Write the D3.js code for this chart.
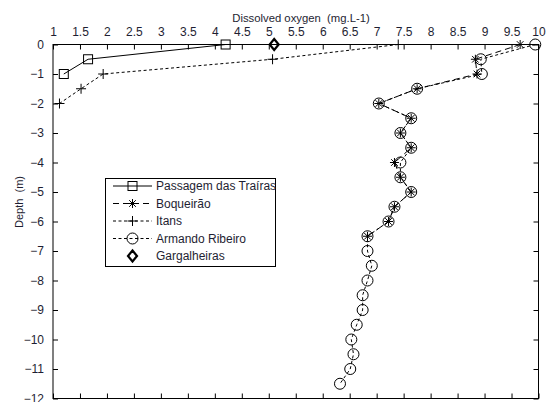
<!DOCTYPE html>
<html>
<head>
<meta charset="utf-8">
<script src="https://cdn.jsdelivr.net/npm/d3@7"></script>
<style>
  body { margin: 0; background: #fff; }
  text { font-family: "Liberation Sans", Arial, sans-serif; }
</style>
</head>
<body>
<svg id="chart" width="547" height="402"></svg>
<script>
// data: depth (m) vs dissolved oxygen (mg/L)
var passagemDepth = [0, -0.5, -1];
var passagemDO = [4.2, 1.65, 1.2];

var boqueiraoDepth = [0, -0.5, -1, -1.5, -2, -2.5, -3, -3.5, -4, -4.5, -5, -5.5, -6, -6.5];
var boqueiraoDO = [9.66, 8.83, 8.86, 7.75, 7.04, 7.64, 7.44, 7.64, 7.33, 7.44, 7.64, 7.33, 7.22, 6.83];

var itansDepth = [0, -0.5, -1, -1.5, -2];
var itansDO = [7.4, 5.07, 1.93, 1.52, 1.12];

var armandoDepth = [0, -0.5, -1, -1.5, -2, -2.5, -3, -3.5, -4, -4.5, -5, -5.5, -6, -6.5,
  -7, -7.5, -8, -8.5, -9, -9.5, -10, -10.5, -11, -11.5];
var armandoDO = [9.94, 8.93, 8.95, 7.75, 7.04, 7.64, 7.44, 7.64, 7.44, 7.44, 7.64, 7.33, 7.22, 6.83,
  6.83, 6.91, 6.83, 6.74, 6.74, 6.63, 6.53, 6.57, 6.51, 6.32];

var gargalheirasDepth = [0];
var gargalheirasDO = [5.1];

var xTicks = [1, 1.5, 2, 2.5, 3, 3.5, 4, 4.5, 5, 5.5, 6, 6.5, 7, 7.5, 8, 8.5, 9, 9.5, 10];
var yTicks = [0, -1, -2, -3, -4, -5, -6, -7, -8, -9, -10, -11, -12];

var series = [
  {name: "Passagem das Traíras", x: passagemDO, y: passagemDepth, dash: null, marker: "square"},
  {name: "Boqueirão", x: boqueiraoDO, y: boqueiraoDepth, dash: "6,4", marker: "asterisk"},
  {name: "Itans", x: itansDO, y: itansDepth, dash: "3,2.5", marker: "plus"},
  {name: "Armando Ribeiro", x: armandoDO, y: armandoDepth, dash: "3,2.5", marker: "circle"},
  {name: "Gargalheiras", x: gargalheirasDO, y: gargalheirasDepth, dash: "none", marker: "diamond"}
];

var svg = d3.select("#chart");
var pLeft = 53, pRight = 538.5, pTop = 44.5, pBottom = 398.5;
var textColor = "#1e1e32";

var x = d3.scaleLinear().domain([1, 10]).range([pLeft, pRight]);
var y = d3.scaleLinear().domain([0, -12]).range([pTop, pBottom]);

// box
svg.append("rect")
  .attr("x", pLeft).attr("y", pTop)
  .attr("width", pRight - pLeft).attr("height", pBottom - pTop)
  .attr("fill", "none").attr("stroke", "#000").attr("stroke-width", 1);

// top axis with labels
var xTop = svg.append("g").attr("transform", "translate(0," + pTop + ")")
  .call(d3.axisTop(x).tickValues(xTicks).tickSize(-5).tickPadding(9)
    .tickFormat(function(d){ return d3.format("")(d); }));
// bottom axis, ticks only
var xBot = svg.append("g").attr("transform", "translate(0," + pBottom + ")")
  .call(d3.axisBottom(x).tickValues(xTicks).tickSize(-5).tickFormat(""));
var yLeft = svg.append("g").attr("transform", "translate(" + pLeft + ",0)")
  .call(d3.axisLeft(y).tickValues(yTicks).tickSize(-5).tickPadding(9));
var yRight = svg.append("g").attr("transform", "translate(" + pRight + ",0)")
  .call(d3.axisRight(y).tickValues(yTicks).tickSize(-5).tickFormat(""));

[xTop, xBot, yLeft, yRight].forEach(function(g){
  g.select(".domain").remove();
  g.selectAll("line").attr("stroke", "#000");
  g.selectAll("text").attr("fill", textColor).style("font-size", "12px")
    .style("font-family", "Liberation Sans, Arial, sans-serif");
});

// titles
svg.append("text")
  .attr("x", 301).attr("y", 22)
  .attr("text-anchor", "middle").attr("fill", textColor)
  .style("font-size", "11.3px").attr("xml:space", "preserve")
  .text("Dissolved oxygen  (mg.L-1)");
svg.append("text")
  .attr("transform", "translate(23,202) rotate(-90)")
  .attr("text-anchor", "middle").attr("fill", textColor)
  .style("font-size", "11px").attr("xml:space", "preserve")
  .text("Depth  (m)");

function drawMarker(g, type, cx, cy){
  var p;
  if (type == "square") {
    g.append("rect").attr("x", cx - 4.5).attr("y", cy - 4.5).attr("width", 9).attr("height", 9)
      .attr("fill", "none").attr("stroke", "#000").attr("stroke-width", 1);
  } else if (type == "circle") {
    g.append("circle").attr("cx", cx).attr("cy", cy).attr("r", 5.5)
      .attr("fill", "none").attr("stroke", "#000").attr("stroke-width", 1);
  } else if (type == "plus") {
    p = "M" + (cx - 5) + "," + cy + "H" + (cx + 5) + "M" + cx + "," + (cy - 5) + "V" + (cy + 5);
    g.append("path").attr("d", p).attr("stroke", "#000").attr("stroke-width", 1);
  } else if (type == "asterisk") {
    var r = 4.5, s = 3.3;
    p = "M" + (cx - r) + "," + cy + "H" + (cx + r) + "M" + cx + "," + (cy - r) + "V" + (cy + r) +
      "M" + (cx - s) + "," + (cy - s) + "L" + (cx + s) + "," + (cy + s) +
      "M" + (cx - s) + "," + (cy + s) + "L" + (cx + s) + "," + (cy - s);
    g.append("path").attr("d", p).attr("stroke", "#000").attr("stroke-width", 1);
  } else if (type == "diamond") {
    p = "M" + cx + "," + (cy - 5.5) + "L" + (cx + 4.5) + "," + cy + "L" + cx + "," + (cy + 5.5) +
      "L" + (cx - 4.5) + "," + cy + "Z";
    g.append("path").attr("d", p).attr("fill", "none").attr("stroke", "#000").attr("stroke-width", 2.2);
  }
}

var line = d3.line().x(function(d){ return x(d[0]); }).y(function(d){ return y(d[1]); });

series.forEach(function(s){
  var g = svg.append("g");
  var pts = d3.zip(s.x, s.y);
  if (s.dash !== "none" && pts.length > 1) {
    g.append("path").datum(pts).attr("d", line)
      .attr("fill", "none").attr("stroke", "#000").attr("stroke-width", 1)
      .attr("stroke-dasharray", s.dash);
  }
  pts.forEach(function(d){ drawMarker(g, s.marker, x(d[0]), y(d[1])); });
});

// legend
var lg = svg.append("g");
lg.append("rect").attr("x", 105.5).attr("y", 178.5).attr("width", 170).attr("height", 88)
  .attr("fill", "#fff").attr("stroke", "#000").attr("stroke-width", 1);
series.forEach(function(s, i){
  var ly = 186 + i * 17.5;
  if (s.dash !== "none") {
    lg.append("line").attr("x1", 113).attr("x2", 152).attr("y1", ly).attr("y2", ly)
      .attr("stroke", "#000").attr("stroke-width", 1).attr("stroke-dasharray", s.dash);
  }
  drawMarker(lg, s.marker, 132.5, ly);
  lg.append("text").attr("x", 156).attr("y", ly).attr("dy", "0.35em")
    .attr("fill", textColor).style("font-size", "12px").text(s.name);
});
</script>
</body>
</html>
